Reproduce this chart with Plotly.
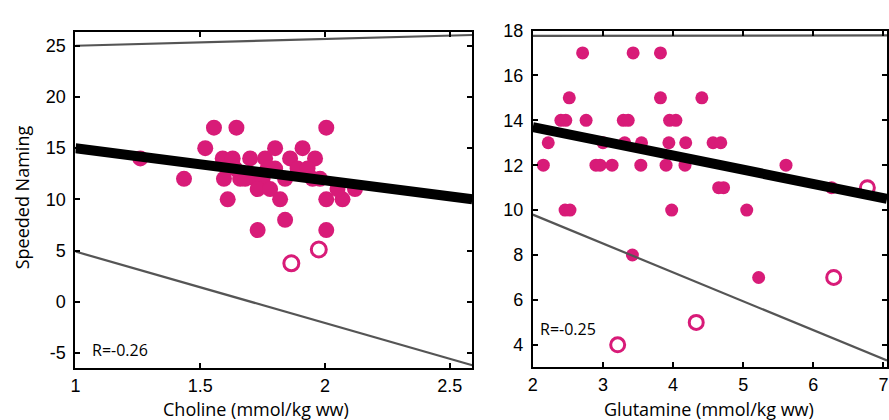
import plotly.graph_objects as go

# ---------------- data ----------------
# Left panel: Choline vs Speeded Naming
cho_filled_x = [1.26, 1.435, 1.52, 1.555, 1.645, 2.005, 1.59, 1.63, 1.595, 1.61,
                1.66, 1.70, 1.76, 1.80, 1.86, 1.91, 1.96, 1.89, 1.93, 1.72,
                1.75, 1.73, 1.78, 1.80, 1.84, 1.95, 1.82, 1.73, 1.84, 2.005,
                2.005, 2.07, 2.12, 1.68, 1.77, 1.64, 1.98, 2.05]
cho_filled_y = [14, 12, 15, 17, 17, 17, 14, 14, 12, 10,
                12, 14, 14, 15, 14, 15, 14, 13, 13, 12,
                12, 11, 11, 13, 12, 12, 10, 7, 8, 7,
                10, 10, 11, 12, 13, 13, 12, 11]
cho_open_x = [1.865, 1.975]
cho_open_y = [3.75, 5.1]
cho_fit_x = [1.0, 2.59]
cho_fit_y = [15.0, 10.0]
cho_upper_y = [25.0, 26.05]
cho_lower_y = [4.9, -6.2]

# Right panel: Glutamine vs Speeded Naming
glu_filled_x = [2.71, 3.43, 3.82, 2.52, 3.82, 4.41, 2.40, 2.47, 2.76, 3.29,
                3.36, 3.95, 4.04, 2.22, 3.00, 3.31, 3.55, 3.94, 4.18, 4.57,
                4.68, 2.15, 2.90, 2.96, 3.13, 3.54, 3.90, 4.17, 5.61, 4.65,
                4.72, 6.26, 2.46, 2.53, 3.98, 5.05, 3.42, 5.22]
glu_filled_y = [17, 17, 17, 15, 15, 15, 14, 14, 14, 14,
                14, 14, 14, 13, 13, 13, 13, 13, 13, 13,
                13, 12, 12, 12, 12, 12, 12, 12, 12, 11,
                11, 11, 10, 10, 10, 10, 8, 7]
glu_open_x = [6.77, 6.29, 4.33, 3.21]
glu_open_y = [11, 7, 5, 4]
glu_fit_x = [2.0, 7.05]
glu_fit_y = [13.7, 10.5]
glu_upper_y = [17.76, 17.78]
glu_lower_y = [9.8, 3.3]

cho_ticks = [1, 1.5, 2, 2.5]
cho_ticktext = ["1", "1.5", "2", "2.5"]
cho_yticks = [-5, 0, 5, 10, 15, 20, 25]
cho_yticktext = ["-5", "0", "5", "10", "15", "20", "25"]
glu_ticks = [2, 3, 4, 5, 6, 7]
glu_yticks = [4, 6, 8, 10, 12, 14, 16, 18]

PINK = "#D81B78"
GREY = "#555555"

fig = go.Figure()

def add_panel(xa, ya, fx, fy, ox, oy, lx, ly, uy, loy, fsize, osize):
    fig.add_trace(go.Scatter(x=fx, y=fy, mode="markers", xaxis=xa, yaxis=ya,
                             marker=dict(size=fsize, color=PINK, line=dict(width=0)),
                             showlegend=False, hoverinfo="skip"))
    fig.add_trace(go.Scatter(x=ox, y=oy, mode="markers", xaxis=xa, yaxis=ya,
                             marker=dict(size=osize, color="white",
                                         line=dict(width=3, color=PINK)),
                             showlegend=False, hoverinfo="skip"))
    fig.add_trace(go.Scatter(x=lx, y=uy, mode="lines", xaxis=xa, yaxis=ya,
                             line=dict(color=GREY, width=2.2), showlegend=False,
                             hoverinfo="skip"))
    fig.add_trace(go.Scatter(x=lx, y=loy, mode="lines", xaxis=xa, yaxis=ya,
                             line=dict(color=GREY, width=2.2), showlegend=False,
                             hoverinfo="skip"))
    fig.add_trace(go.Scatter(x=lx, y=ly, mode="lines", xaxis=xa, yaxis=ya,
                             line=dict(color="black", width=10), showlegend=False,
                             hoverinfo="skip"))

add_panel("x", "y", cho_filled_x, cho_filled_y, cho_open_x, cho_open_y,
          cho_fit_x, cho_fit_y, cho_upper_y, cho_lower_y, 16, 15)
add_panel("x2", "y2", glu_filled_x, glu_filled_y, glu_open_x, glu_open_y,
          glu_fit_x, glu_fit_y, glu_upper_y, glu_lower_y, 13, 14)

W, H = 889, 420
tickfont = dict(family="Liberation Sans, Arial, sans-serif", size=18, color="black")
axis_common = dict(showline=True, linecolor="black", linewidth=2, mirror="ticks",
                   ticks="inside", ticklen=5, tickwidth=2, tickcolor="black",
                   showgrid=False, zeroline=False, tickfont=tickfont)

fig.update_layout(
    width=W, height=H,
    margin=dict(l=0, r=0, t=0, b=0),
    paper_bgcolor="white", plot_bgcolor="white",
    xaxis=dict(domain=[71 / W, 471 / W], range=[1.0, 2.59], tickvals=cho_ticks,
               ticktext=cho_ticktext, anchor="y", ticklabelstandoff=0,
               **axis_common),
    yaxis=dict(domain=[1 - 367 / H, 1 - 23 / H], range=[-6.5, 26.3],
               tickvals=cho_yticks, ticktext=cho_yticktext, anchor="x",
               ticklabelstandoff=4, **axis_common),
    xaxis2=dict(domain=[532 / W, 1.0], range=[2.0, 7.05], tickvals=glu_ticks,
                anchor="y2", ticklabelstandoff=0, **axis_common),
    yaxis2=dict(domain=[1 - 366 / H, 1 - 21 / H], range=[3.0, 18.0],
                tickvals=glu_yticks, anchor="x2", ticklabelstandoff=4,
                **axis_common),
)

titlefont = dict(family="Open Sans, Noto Sans, sans-serif", size=18, color="black")
fig.add_annotation(text="Choline (mmol/kg ww)", xref="paper", yref="paper",
                   x=253 / W, y=1 - 409 / H, showarrow=False, font=titlefont,
                   xanchor="center", yanchor="middle")
fig.add_annotation(text="Glutamine (mmol/kg ww)", xref="paper", yref="paper",
                   x=710 / W, y=1 - 409 / H, showarrow=False, font=titlefont,
                   xanchor="center", yanchor="middle")
fig.add_annotation(text="Speeded Naming", xref="paper", yref="paper",
                   x=18 / W, y=1 - 192 / H, showarrow=False, font=titlefont,
                   textangle=-90, xanchor="center", yanchor="middle")

rfont = dict(family="Open Sans, Noto Sans, sans-serif", size=16, color="black")
fig.add_annotation(text="R=-0.26", xref="x", yref="y", x=1.06, y=-4.7,
                   showarrow=False, font=rfont, xanchor="left", yanchor="middle")
fig.add_annotation(text="R=-0.25", xref="x2", yref="y2", x=2.08, y=4.7,
                   showarrow=False, font=rfont, xanchor="left", yanchor="middle")

fig.write_html("out.html", config={"displayModeBar": False},
               post_script="document.body.style.margin='0';"
                           "document.body.style.overflow='hidden';")
